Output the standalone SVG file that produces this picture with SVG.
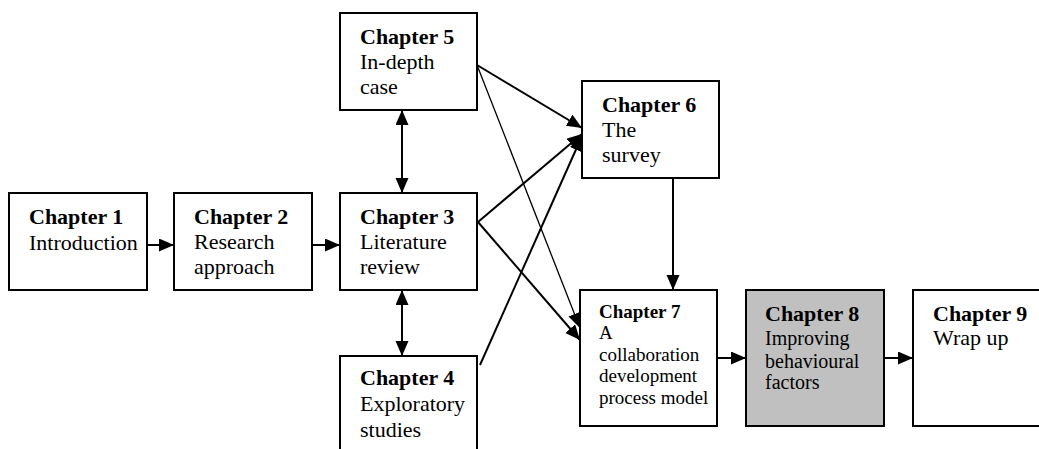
<svg xmlns="http://www.w3.org/2000/svg" width="1039" height="449" viewBox="0 0 1039 449">
<style>
.box{fill:#fff;stroke:#000;stroke-width:2}
.grey{fill:#c0c0c0}
text{font-family:"Liberation Serif","Times New Roman",serif;font-size:22px;fill:#000}
.b{font-weight:bold}
.s{font-size:19px}
.m{font-size:20px}
.c{stroke:#000;stroke-width:2;fill:none}
.thin{stroke-width:1.3}
</style>
<defs>
<marker id="ah" markerUnits="userSpaceOnUse" markerWidth="16" markerHeight="14" refX="15" refY="6.5" orient="auto-start-reverse">
<path d="M0,0 L15,6.5 L0,13 z" fill="#000"/>
</marker>
</defs>
<rect width="1039" height="449" fill="#fff"/>
<g id="connectors">
<line class="c" x1="147" y1="245" x2="174" y2="245" marker-end="url(#ah)"/>
<line class="c" x1="312" y1="245" x2="340" y2="245" marker-end="url(#ah)"/>
<line class="c" x1="402" y1="110" x2="402" y2="193" marker-start="url(#ah)" marker-end="url(#ah)"/>
<line class="c" x1="402" y1="290" x2="402" y2="356" marker-start="url(#ah)" marker-end="url(#ah)"/>
<line class="c" x1="477" y1="65" x2="582" y2="128" marker-end="url(#ah)"/>
<line class="c thin" x1="477" y1="65" x2="580" y2="328" marker-end="url(#ah)"/>
<line class="c" x1="478" y1="222" x2="582" y2="134" marker-end="url(#ah)"/>
<line class="c" x1="478" y1="222" x2="580" y2="340" marker-end="url(#ah)"/>
<line class="c" x1="480" y1="365" x2="582" y2="136" marker-end="url(#ah)"/>
<line class="c" x1="673" y1="178" x2="673" y2="290" marker-end="url(#ah)"/>
<line class="c" x1="717" y1="358" x2="746" y2="358" marker-end="url(#ah)"/>
<line class="c" x1="884" y1="358" x2="913" y2="358" marker-end="url(#ah)"/>
</g>
<g id="ch1">
<rect class="box" x="9" y="193" width="138" height="97"/>
<text class="b" x="29" y="224">Chapter 1</text>
<text x="29" y="250">Introduction</text>
</g>
<g id="ch2">
<rect class="box" x="174" y="193" width="138" height="97"/>
<text class="b" x="194" y="224">Chapter 2</text>
<text x="194" y="249">Research</text>
<text x="194" y="274">approach</text>
</g>
<g id="ch3">
<rect class="box" x="340" y="193" width="137" height="97"/>
<text class="b" x="360" y="224">Chapter 3</text>
<text x="360" y="249">Literature</text>
<text x="360" y="274">review</text>
</g>
<g id="ch4">
<rect class="box" x="340" y="356" width="137" height="110"/>
<text class="b" x="360" y="385">Chapter 4</text>
<text x="360" y="411">Exploratory</text>
<text x="360" y="437">studies</text>
</g>
<g id="ch5">
<rect class="box" x="340" y="13" width="137" height="97"/>
<text class="b" x="360" y="44">Chapter 5</text>
<text x="360" y="69">In-depth</text>
<text x="360" y="94">case</text>
</g>
<g id="ch6">
<rect class="box" x="582" y="81" width="137" height="97"/>
<text class="b" x="602" y="112">Chapter 6</text>
<text x="602" y="137">The</text>
<text x="602" y="162">survey</text>
</g>
<g id="ch7">
<rect class="box" x="580" y="290" width="137" height="136"/>
<text class="b s" x="599" y="318">Chapter 7</text>
<text class="s" x="599" y="339">A</text>
<text class="s" x="599" y="361">collaboration</text>
<text class="s" x="599" y="382">development</text>
<text class="s" x="599" y="404">process model</text>
</g>
<g id="ch8">
<rect class="box grey" x="746" y="290" width="138" height="136"/>
<text class="b" x="765" y="321">Chapter 8</text>
<text class="m" x="765" y="345">Improving</text>
<text class="m" x="765" y="368">behavioural</text>
<text class="m" x="765" y="389">factors</text>
</g>
<g id="ch9">
<rect class="box" x="913" y="290" width="140" height="136"/>
<text class="b" x="933" y="321">Chapter 9</text>
<text x="933" y="345">Wrap up</text>
</g>
</svg>
